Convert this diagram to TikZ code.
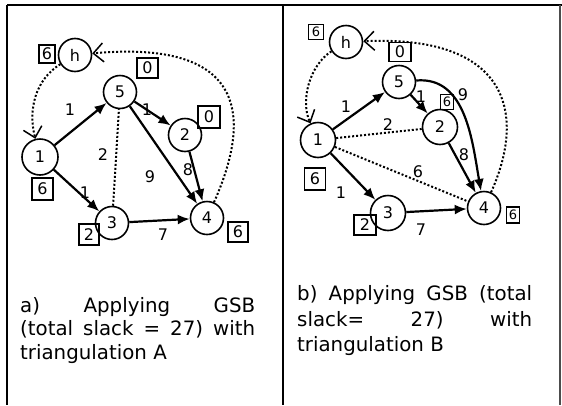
\documentclass[tikz,border=0pt]{standalone}
\usepackage{fontspec}
\setmainfont{DejaVu Sans}
\usetikzlibrary{arrows.meta}
\begin{document}
\begin{tikzpicture}[x=1pt,y=-1pt,
  vtx/.style={circle,draw,line width=1.6pt,minimum size=33pt,inner sep=0pt,font=\fontsize{16}{16}\selectfont},
  slk/.style={draw,line width=1.8pt,inner sep=0pt,font=\fontsize{16}{16}\selectfont},
  slks/.style={draw,line width=1.8pt,inner sep=0pt,font=\fontsize{13}{13}\selectfont},
  arc/.style={line width=2.2pt,-{Latex[length=12pt,width=10pt]}},
  tri/.style={line width=2pt,dotted},
  back/.style={line width=2pt,dotted,-{Straight Barb[length=10pt,width=19pt,line width=1.5pt]}},
  lbl/.style={font=\fontsize{16}{16}\selectfont,inner sep=0pt},
  captxt/.style={font=\fontsize{19.8}{24}\selectfont,inner sep=0pt,anchor=base west},
  frame/.style={line width=1.6pt}
]
\useasboundingbox (0,0) rectangle (562,405);
% frame
\coordinate (tl) at (7,5);
\coordinate (tr) at (562,5);
\coordinate (bl) at (7,405);
\coordinate (mt) at (283,5);
\coordinate (mb) at (283,405);
\coordinate (rt) at (560,5);
\coordinate (rb) at (560,405);
\draw[line width=2.2pt] (tl) -- (tr);
\draw[frame] (tl) -- (bl);
\draw[frame] (mt) -- (mb);
\draw[line width=1.3pt,black!70] (rt) -- (rb);

% ---------- panel a ----------
\node[vtx] (ah) at (75,55) {h};
\node[vtx] (a5) at (120,92) {5};
\node[vtx] (a2) at (185,135) {2};
\node[vtx,minimum size=36pt] (a1) at (40,157) {1};
\node[vtx] (a3) at (112,223) {3};
\node[vtx] (a4) at (207,218) {4};

\node[slk,minimum width=16pt,minimum height=18pt] (bah) at (47,54) {6};
\node[slk,minimum width=21pt,minimum height=20pt] (ba5) at (147.5,68) {0};
\node[slk,minimum width=22pt,minimum height=22pt] (ba2) at (209,117) {0};
\node[slk,minimum width=21pt,minimum height=22pt] (ba1) at (42.5,189) {6};
\node[slk,minimum width=20pt,minimum height=21pt] (ba3) at (89,234.5) {2};
\node[slk,minimum width=20pt,minimum height=20pt] (ba4) at (238,232) {6};

\draw[arc] (a1) -- (a5);
\draw[arc] (a1) -- (a3);
\draw[arc] (a5) -- (a2);
\draw[arc] (a5) -- (a4);
\draw[arc] (a2) -- (a4);
\draw[arc] (a3) -- (a4);
\draw[tri] (a3) -- (a5);
\draw[back] (a4) .. controls (255,110) and (240,40) .. (ah);
\draw[back] (ah) .. controls (35,80) and (28,110) .. (a1);

\node[lbl] (la15) at (70,110) {1};
\node[lbl] (la13) at (85,193) {1};
\node[lbl] (la52) at (147,110) {1};
\node[lbl] (la54) at (150,177) {9};
\node[lbl] (la24) at (188,170) {8};
\node[lbl] (la34) at (163,235) {7};
\node[lbl] (la35) at (103,155) {2};

% ---------- panel b ----------
\node[vtx] (bh) at (346,42) {h};
\node[vtx] (b5) at (399,82) {5};
\node[vtx,minimum size=35pt] (b2) at (440,127) {2};
\node[vtx,minimum size=35pt] (b1) at (318,140) {1};
\node[vtx,minimum size=35pt] (b3) at (388,213) {3};
\node[vtx] (b4) at (484,208) {4};

\node[slks,minimum width=15pt,minimum height=15pt] (bbh) at (316,32) {6};
\node[slk,minimum width=22pt,minimum height=19pt] (bb5) at (400,52) {0};
\node[slks,minimum width=13pt,minimum height=15pt] (bb2) at (447,102) {6};
\node[slk,minimum width=21pt,minimum height=22pt] (bb1) at (315,179) {6};
\node[slk,minimum width=22pt,minimum height=20pt] (bb3) at (365,225) {2};
\node[slks,minimum width=13pt,minimum height=16pt] (bb4) at (513,215) {6};

\draw[arc] (b1) -- (b5);
\draw[arc] (b1) -- (b3);
\draw[arc] (b5) -- (b2);
\draw[arc] (b5) to[out=5,in=100] (b4);
\draw[arc] (b2) -- (b4);
\draw[arc] (b3) -- (b4);
\draw[tri] (b1) -- (b2);
\draw[tri] (b1) -- (b4);
\draw[back] (b4) .. controls (528,110) and (505,35) .. (bh);
\draw[back] (bh) .. controls (310,65) and (300,100) .. (b1);

\node[lbl] (lb15) at (346,107) {1};
\node[lbl] (lb13) at (341,193) {1};
\node[lbl] (lb52) at (421,97) {1};
\node[lbl] (lb54) at (463,95) {9};
\node[lbl] (lb24) at (464,155) {8};
\node[lbl] (lb34) at (421,230) {7};
\node[lbl] (lb12) at (388,125) {2};
\node[lbl] (lb14) at (418,172) {6};

% ---------- captions ----------
\node[captxt] (ca1) at (20,312) {\makebox[235pt][s]{a) Applying GSB}};
\node[captxt] (ca2) at (20,335) {\makebox[235pt][s]{(total slack = 27) with}};
\node[captxt] (ca3) at (20,359) {triangulation A};
\node[captxt] (cb1) at (297,300) {\makebox[235pt][s]{b) Applying GSB (total}};
\node[captxt] (cb2) at (297,326) {\makebox[235pt][s]{slack= 27) with}};
\node[captxt] (cb3) at (297,351) {triangulation B};
\end{tikzpicture}
\end{document}
